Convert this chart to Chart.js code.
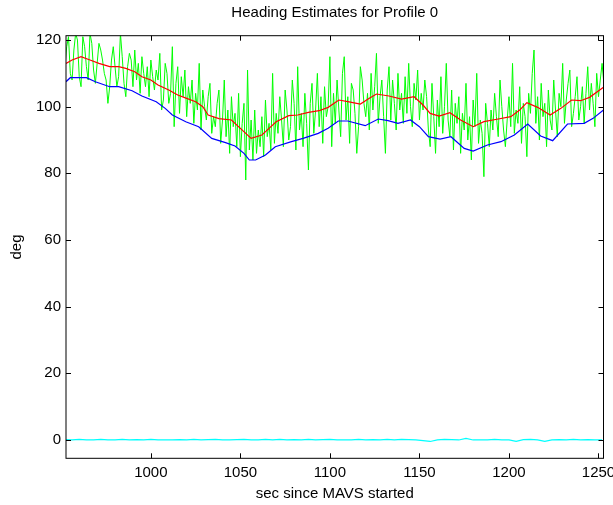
<!DOCTYPE html>
<html>
<head>
<meta charset="utf-8">
<title>Heading Estimates for Profile 0</title>
<script src="https://cdn.jsdelivr.net/npm/chart.js@4.4.1/dist/chart.umd.min.js"></script>
<style>
  html, body { margin: 0; padding: 0; background: #fff; }
  #chart { display: block; }
</style>
</head>
<body>
<canvas id="chart" width="613" height="505"></canvas>
<script>
// axis ranges and ticks
const xMin = 952.6, xMax = 1252.8;
const yMin = -5.5, yMax = 121.3;
const xTicks = [1000, 1050, 1100, 1150, 1200, 1250];
const yTicks = [0, 20, 40, 60, 80, 100, 120];

// raw heading (green), one sample per second starting at greenStart
const greenStart = 952;
const greenStep = 1;
const greenValues = [
  112, 118, 121, 110, 108, 117, 122, 120, 109, 106,
  121, 118, 112, 108, 122, 119, 111, 107, 113, 119,
  117, 114, 110, 108, 101, 106, 114, 118, 112, 106,
  109, 122, 115, 107, 103, 112, 116, 114, 106, 117,
  108, 113, 104, 115, 110, 106, 112, 103, 114, 109,
  105, 111, 108, 116, 99, 102, 113, 110, 101, 104,
  118, 94, 107, 112, 98, 109, 103, 111, 97, 106,
  101, 108, 95, 104, 99, 113, 93, 105, 100, 96,
  103, 107, 92, 97, 94, 101, 105, 89, 96, 108,
  91, 99, 86, 103, 94, 98, 88, 104, 85, 95,
  101, 78, 111, 87, 96, 84, 99, 86, 93, 88,
  97, 85, 102, 91, 95, 87, 110, 89, 98, 92,
  103, 96, 88, 105, 99, 90, 94, 108, 101, 87,
  112, 93, 98, 88, 104, 95, 81, 101, 107, 92,
  99, 110, 94, 103, 89, 106, 97, 100, 115, 88,
  104, 95, 108, 99, 91, 110, 115, 96, 103, 89,
  107, 105, 98, 86, 94, 112, 108, 101, 97, 104,
  93, 110, 99, 106, 116, 95, 103, 108, 97, 86,
  105, 112, 96, 108, 101, 93, 110, 99, 104, 95,
  109, 98, 113, 100, 94, 107, 102, 111, 96, 104,
  99, 108, 103, 93, 88, 107, 97, 86, 102, 94,
  109, 92, 100, 113, 96, 91, 105, 87, 101, 95,
  103, 86, 98, 93, 107, 90, 97, 84, 102, 94,
  110, 89, 96, 92, 79, 101, 95, 88, 99, 93,
  104, 97, 91, 108, 100, 93, 88, 96, 103, 94,
  113, 92, 99, 95, 106, 89, 101, 97, 85, 104,
  98, 110, 117, 95, 103, 90, 107, 97, 101, 88,
  105, 96, 93, 108, 99, 91, 104, 100, 113, 95,
  102, 107, 111, 94, 98, 103, 109, 96, 100, 106,
  95, 104, 112, 99, 107, 101, 94, 110, 103, 108,
  113, 107
];

// smoothed estimate (red)
const redTime = [952.6, 956, 961, 966, 971, 977, 982, 986, 991, 995,
  1000, 1004, 1010, 1015, 1020, 1025, 1029, 1032, 1038, 1045,
  1050, 1056, 1062, 1066, 1070, 1077, 1082, 1088, 1094, 1099,
  1105, 1110, 1117, 1122, 1126, 1133, 1140, 1147, 1152, 1156,
  1161, 1167, 1173, 1180, 1186, 1194, 1201, 1206, 1210, 1216,
  1223, 1229, 1235, 1240, 1245, 1252.8];
const redValues = [113, 114, 115, 114, 113, 112, 112, 111.5, 110.5, 109,
  108, 106.5, 105, 103.5, 102.5, 101.5, 100, 97.5, 96.4, 96,
  93.5, 90.5, 91.5, 93.5, 95.5, 97.3, 97.5, 98.3, 98.8, 99.8,
  102, 101.5, 100.8, 102.5, 103.8, 103.2, 102.3, 103, 100.5, 98,
  97.2, 98.2, 96, 94, 95.5, 96.3, 97, 99, 101.2, 99.8,
  97.5, 99.5, 102, 101.8, 102.8, 105.8];

// second estimate (blue)
const blueTime = [952.6, 955, 964, 969, 977, 982, 989.5, 995, 1003, 1008,
  1012, 1019.5, 1026.7, 1034, 1041.7, 1047, 1052, 1055, 1058.5, 1064,
  1069.5, 1078.5, 1085, 1093.5, 1099, 1104.7, 1110, 1119.7, 1127, 1132.5,
  1138, 1145, 1150, 1155, 1161.5, 1167.6, 1175, 1180, 1188, 1195.5,
  1203, 1210.5, 1217.7, 1224.4, 1232.7, 1242, 1247, 1252.8];
const blueValues = [107.5, 108.7, 108.7, 107.5, 106, 106, 104.8, 103.2, 101.5, 99.5,
  97.5, 95.5, 94, 90.5, 89.2, 88.2, 86, 84, 84, 85.5,
  88, 89.5, 90.5, 92, 93.5, 95.7, 95.7, 94.3, 96.3, 95.8,
  95, 96, 94, 91, 90.3, 91, 87.5, 86.7, 88.5, 89.5,
  91.5, 94.8, 91.2, 89.8, 94.8, 95, 96.5, 99];

// difference trace near zero (cyan), one sample every 4 s
const cyanStart = 952;
const cyanStep = 4;
const cyanValues = [
  0.1, 0, 0.15, 0, 0.05, 0.15, 0, 0, 0.15, 0,
  0.1, 0, 0.15, 0, 0, 0, 0.1, 0, 0.15, 0,
  0.1, 0.15, 0, 0, 0.1, 0.15, 0, 0.05, 0.15, 0,
  0.15, 0, 0.1, 0, 0.15, 0, 0.1, 0.15, 0, 0.05,
  0, 0.15, 0, 0.1, 0, 0.15, 0, 0.15, 0.1, 0,
  -0.2, -0.45, 0, 0.15, 0.1, 0, 0.45, 0, 0.05, 0,
  0.15, 0, 0, -0.4, 0.1, 0.15, 0, -0.4, 0, 0.1,
  0, 0.15, 0, 0.1, 0, 0.05
];

const FONT = { family: '"Liberation Sans", Arial, Helvetica, sans-serif', size: 15 };

function toPoints(times, values) {
    return values.map((v, i) => ({ x: times[i], y: v }));
}
function toEvenPoints(start, step, values) {
    return values.map((v, i) => ({ x: start + i * step, y: v }));
}

// MATLAB style box with inward tick marks on all four sides
const boxPlugin = {
    id: 'boxPlugin',
    afterDatasetsDraw(chart) {
        const { ctx, chartArea: a, scales } = chart;
        ctx.save();
        ctx.strokeStyle = '#000';
        ctx.lineWidth = 1;
        ctx.strokeRect(a.left, a.top, a.right - a.left, a.bottom - a.top);
        ctx.beginPath();
        scales.x.ticks.forEach(t => {
            const px = Math.round(scales.x.getPixelForValue(t.value)) + 0.5;
            ctx.moveTo(px, a.bottom); ctx.lineTo(px, a.bottom - 5);
            ctx.moveTo(px, a.top); ctx.lineTo(px, a.top + 5);
        });
        scales.y.ticks.forEach(t => {
            const py = Math.round(scales.y.getPixelForValue(t.value)) + 0.5;
            ctx.moveTo(a.left, py); ctx.lineTo(a.left + 5, py);
            ctx.moveTo(a.right, py); ctx.lineTo(a.right - 5, py);
        });
        ctx.stroke();
        ctx.restore();
    }
};

const ctx = document.getElementById('chart');
new Chart(ctx, {
    type: 'line',
    data: {
        datasets: [
            {
                label: 'red',
                data: toPoints(redTime, redValues),
                borderColor: '#ff0000',
                borderWidth: 1.2,
                pointRadius: 0,
                tension: 0
            },
            {
                label: 'blue',
                data: toPoints(blueTime, blueValues),
                borderColor: '#0000ff',
                borderWidth: 1.2,
                pointRadius: 0,
                tension: 0
            },
            {
                label: 'green',
                data: toEvenPoints(greenStart, greenStep, greenValues),
                borderColor: '#00ff00',
                borderWidth: 1,
                pointRadius: 0,
                tension: 0
            },
            {
                label: 'cyan',
                data: toEvenPoints(cyanStart, cyanStep, cyanValues),
                borderColor: '#00ffff',
                borderWidth: 1.2,
                pointRadius: 0,
                tension: 0
            }
        ]
    },
    options: {
        responsive: false,
        animation: false,
        layout: { padding: { left: 0, right: 9.5, top: 0, bottom: 0 } },
        scales: {
            x: {
                type: 'linear',
                position: 'bottom',
                min: xMin,
                max: xMax,
                grid: { display: false, drawTicks: false },
                border: { display: false },
                afterBuildTicks: scale => { scale.ticks = xTicks.map(v => ({ value: v })); },
                afterFit: scale => {
                    scale.height = 46.7;
                    scale.paddingLeft = 0;
                    scale.paddingRight = 0;
                },
                ticks: {
                    color: '#000',
                    font: FONT,
                    padding: 6,
                    maxRotation: 0,
                    callback: v => String(v)
                },
                title: {
                    display: true,
                    text: 'sec since MAVS started',
                    color: '#000',
                    font: FONT,
                    padding: { top: 0, bottom: 2 }
                }
            },
            xTop: {
                type: 'linear',
                position: 'top',
                min: xMin,
                max: xMax,
                grid: { display: false, drawTicks: false },
                border: { display: false },
                ticks: { display: false },
                afterFit: scale => {
                    scale.height = 35.7;
                    scale.paddingLeft = 0;
                    scale.paddingRight = 0;
                },
                title: {
                    display: true,
                    text: 'Heading Estimates for Profile 0',
                    color: '#000',
                    font: FONT,
                    padding: { top: 4, bottom: 0 }
                }
            },
            y: {
                type: 'linear',
                min: yMin,
                max: yMax,
                grid: { display: false, drawTicks: false },
                border: { display: false },
                afterBuildTicks: scale => { scale.ticks = yTicks.map(v => ({ value: v })); },
                afterFit: scale => {
                    scale.width = 66;
                    scale.paddingTop = 0;
                    scale.paddingBottom = 0;
                },
                ticks: {
                    color: '#000',
                    font: FONT,
                    padding: 5,
                    callback: v => String(v)
                },
                title: {
                    display: true,
                    text: 'deg',
                    color: '#000',
                    font: FONT,
                    padding: { top: 8, bottom: 0 }
                }
            }
        },
        plugins: {
            legend: { display: false },
            tooltip: { enabled: false },
            title: { display: false }
        }
    },
    plugins: [boxPlugin]
});
</script>
</body>
</html>
